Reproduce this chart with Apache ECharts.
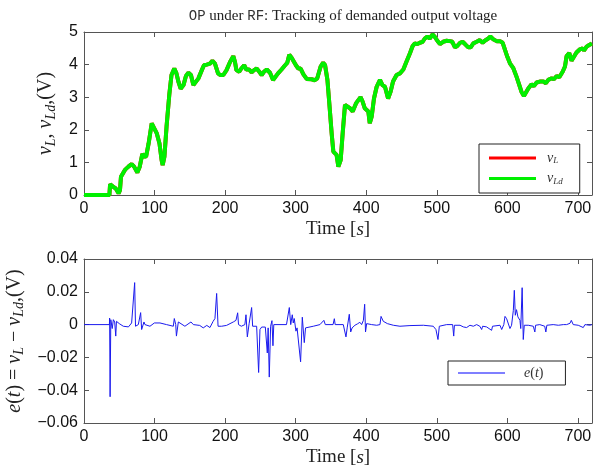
<!DOCTYPE html>
<html>
<head>
<meta charset="utf-8">
<script src="https://cdn.jsdelivr.net/npm/echarts@6/dist/echarts.min.js"></script>
<style>
html, body { margin: 0; padding: 0; background: #fff; }
#main { width: 603px; height: 467px; }
</style>
</head>
<body>
<div id="main"></div>
<script>
// demanded output voltage v_Ld (v_L tracks it, drawn underneath)
var timeTop = [0, 36, 37, 41.6, 45, 49, 51, 52.4, 58, 63, 67.5, 71, 75.6, 79, 82.7, 85, 88, 91.6, 96, 98,
    103, 107, 110, 111.5, 114, 117, 121, 124, 128, 131, 134, 137, 141, 144.5, 148, 151.6, 155, 157, 162, 167,
    170, 174, 178.5, 182, 185.6, 190, 193, 197.5, 202, 207, 211.6, 214, 216, 220, 223, 227, 230, 234, 237.6, 241,
    244.7, 248.5, 251.8, 255, 259, 263.6, 268, 270.7, 275, 280, 285, 288, 291, 294, 296.6, 300.4, 303.7, 307, 311, 315.6,
    322.6, 327, 330.6, 335.4, 339, 341.6, 345, 347.7, 351, 353.4, 355.7, 358, 360.5, 361.9, 363.8, 366.6, 369.9, 372.3,
    377, 380.8, 383, 385.5, 388.8, 392, 395, 398, 400.6, 403, 405, 407.7, 411, 414.8, 419.5, 423, 426.6, 431, 434.6, 438,
    443, 447.8, 452.6, 457, 462, 465.8, 469, 472.5, 476, 480, 483, 486.6, 490, 494, 497, 500.8, 504.5, 509, 514, 518.7,
    522, 525.8, 529, 533, 536.6, 540, 544.7, 548, 551.8, 556.5, 561, 565, 568, 573, 576, 580, 584.8, 589.6, 593.4, 596.7,
    600, 603.7, 608.5, 613, 617, 620, 623.5, 626, 629.7, 634.4, 637.7, 641.5, 646, 651, 654.7, 658, 662.8, 666, 669.9, 673.6,
    678.4, 681.7, 684, 687.8, 691, 694.4, 698, 702.9, 706.7, 708.6, 712.4, 716, 720];
var vLd = [0, 0, 0.33, 0.25, 0.2, 0.05, 0.15, 0.56, 0.77, 0.87, 0.95, 0.87, 0.69, 0.87, 1.26, 1.18, 1.18, 1.58, 2.2, 2.2,
    1.9, 1.58, 1.07, 0.92, 1.18, 2.1, 3.1, 3.68, 3.88, 3.73, 3.46, 3.26, 3.37, 3.65, 3.75, 3.68, 3.37, 3.35, 3.57, 3.83,
    3.98, 4.0, 4.03, 4.12, 4.03, 3.73, 3.68, 3.68, 3.83, 4.08, 4.26, 4.08, 3.83, 3.78, 3.88, 3.98, 3.85, 3.85, 3.76, 3.83,
    3.88, 3.78, 3.68, 3.78, 3.85, 3.75, 3.53, 3.55, 3.73, 3.85, 3.98, 4.05, 4.3, 4.22, 4.24, 3.98, 3.88, 3.88, 3.7, 3.56,
    3.55, 3.52, 3.58, 3.94, 4.06, 3.99, 3.53, 2.81, 1.89, 1.33, 1.28, 1.23, 0.87, 0.82, 1.07, 1.89, 2.76, 2.73,
    2.66, 2.56, 2.56, 2.81, 2.91, 3.0, 2.86, 2.66, 2.71, 2.56, 2.2, 2.4, 2.96, 3.32, 3.53, 3.37, 3.32, 2.96, 3.17, 3.48,
    3.68, 3.73, 3.85, 4.09, 4.35, 4.57, 4.65, 4.63, 4.67, 4.7, 4.8, 4.86, 4.8, 4.93, 4.86, 4.73, 4.63, 4.7, 4.73, 4.72,
    4.7, 4.53, 4.57, 4.67, 4.7, 4.63, 4.53, 4.53, 4.65, 4.7, 4.75, 4.67, 4.73, 4.8, 4.86, 4.78, 4.72, 4.72, 4.67, 4.45,
    4.24, 4.04, 3.89, 3.63, 3.37, 3.17, 3.04, 3.1, 3.27, 3.4, 3.34, 3.45, 3.48, 3.48, 3.43, 3.53, 3.58, 3.55, 3.65, 3.61,
    3.78, 3.94, 4.26, 4.35, 4.12, 4.24, 4.37, 4.47, 4.5, 4.43, 4.55, 4.6, 4.65];
var vL = vLd.slice();

// tracking error e(t)
var timeErr = [0, 36, 36.3, 37, 38, 40, 41.6, 43.5, 45, 46, 50, 55.7, 63, 67.5, 70, 71.8, 73, 77, 80.3, 81.7,
    85, 86.4, 93.5, 99.7, 107.7, 117, 126.6, 128, 130, 131, 133.7, 135, 143, 151.6, 155, 164, 169, 174, 178.5, 183,
    185.6, 188, 190, 195, 202, 211.6, 215.4, 217.8, 219, 223, 228, 229.6, 231.5, 234, 237.6, 239, 244.7, 247.5, 249.4, 251.8,
    257, 259.8, 261, 262.6, 264.5, 266.4, 267.8, 269, 277.8, 287, 291, 293, 295.2, 296.6, 298, 300.4, 302, 307, 309.4, 310.8,
    312.2, 314, 325, 334.4, 340, 340.5, 342, 353, 354.8, 356, 367.5, 371.3, 373, 376, 378, 380, 384, 387.4, 391, 393.5,
    396, 397.8, 399, 400.6, 403, 407.7, 414.8, 419.5, 421, 422.3, 424.2, 426.6, 430, 438.4, 447.8, 462, 481, 495, 498.8, 501.7,
    503.6, 514, 522.5, 524, 525, 533, 537.6, 542.3, 547, 551.8, 556.5, 561, 563.6, 565, 570.6, 577.7, 579, 589.6, 592, 595,
    596.7, 599, 601.4, 603.7, 606, 608.5, 609.9, 611.3, 613, 615, 617.9, 619, 621, 622.6, 624, 629.7, 636.8, 639, 640, 646,
    653, 654.6, 656, 665, 672.3, 679.4, 684, 688.8, 690.7, 693.4, 700.5, 707.6, 710, 717, 720];
var errVals = [0, 0, 0.004, -0.044, 0.003, -0.0024, 0.003, 0.0016, -0.007, 0.002, 0.0006, -0.001, -0.0014, 0.001, 0.001, 0.0256, -0.001, 0, 0.0073, -0.003,
    0.0016, 0, -0.001, 0.001, 0.001, 0, -0.001, 0.0037, 0, -0.007, 0.0016, 0.0008, -0.001, 0.0016, 0, -0.0005, -0.002, -0.0005, -0.0018, 0.002,
    0.0037, 0.019, -0.001, -0.001, -0.0005, 0.0016, 0.0026, 0.0072, 0, -0.001, 0, 0.006, -0.0075, 0.0005, 0.0104, -0.001, -0.001, -0.0292, -0.003, -0.0015,
    -0.0015, -0.0173, -0.002, -0.032, -0.001, 0.0024, -0.0129, 0, 0, 0, 0.0104, 0, 0.006, 0.001, 0.0037, -0.004, -0.002, -0.0227, 0.0045, 0.0045,
    -0.011, -0.002, -0.001, 0, 0.0026, 0.003, 0, 0, 0.0036, 0, 0, -0.0075, -0.002, 0.0063, -0.0045, -0.002, -0.0004, 0.0004, 0.0014, 0,
    0.0026, 0.0124, -0.0045, 0.0006, 0.0016, 0, -0.0004, 0, 0.005, 0.0046, 0.002, 0.0026, 0.0006, -0.0004, -0.001, -0.0006, -0.0004, -0.001, -0.003, -0.0091,
    -0.001, 0, 0, -0.007, -0.0004, -0.0004, -0.0014, -0.0018, -0.0004, -0.001, 0, -0.001, -0.003, -0.001, -0.0014, -0.0035, -0.001, -0.0004, -0.003, 0,
    0.005, 0.0036, 0.0026, -0.0024, -0.0004, 0.0087, 0.0209, 0.0057, 0.0091, 0.0047, 0.0026, -0.0024, 0.0225, -0.0091, -0.0004, -0.0004, -0.001, -0.0045, -0.0004, 0,
    -0.001, -0.0045, -0.0004, 0, -0.0004, 0, 0, 0.0008, 0.0026, 0, -0.0004, -0.0018, 0, -0.0004, 0];

var xTicks = [0, 100, 200, 300, 400, 500, 600, 700];

function pairs(xs, ys) {
    var out = [];
    for (var i = 0; i < xs.length; i++) out.push([xs[i], ys[i]]);
    return out;
}

var serif = '"Liberation Serif", "DejaVu Serif", serif';
var sans = '"Liberation Sans", Arial, sans-serif';

var mathRich = {
    i: { fontFamily: serif, fontStyle: 'italic', fontSize: 20, color: '#222' },
    s: { fontFamily: serif, fontStyle: 'italic', fontSize: 14, color: '#222', padding: [10, 0, 0, 0] },
    r: { fontFamily: serif, fontSize: 20, color: '#222' }
};
var axisNameRich = {
    i: { fontFamily: serif, fontStyle: 'italic', fontSize: 19, color: '#222' },
    r: { fontFamily: serif, fontSize: 19, color: '#222' }
};
var legendRich = {
    i: { fontFamily: serif, fontStyle: 'italic', fontSize: 14, color: '#333' },
    s: { fontFamily: serif, fontStyle: 'italic', fontSize: 9, color: '#333', padding: [6, 0, 0, 0] },
    r: { fontFamily: serif, fontSize: 14, color: '#333' }
};
var legendNames = {
    vL: '{i|v}{s|L}',
    vLd: '{i|v}{s|Ld}',
    e: '{i|e}{r|(}{i|t}{r|)}'
};
var timeName = '{r|Time }{r|[}{i|s}{r|]}';

function xLabel(v) {
    return xTicks.indexOf(v) >= 0 ? String(v) : '';
}
function errLabel(v) {
    if (Math.abs(v) < 1e-9) return '0';
    return (v < 0 ? '\u2212' : '') + Math.abs(v).toFixed(2);
}

var axisLineStyle = { color: '#555', width: 1 };

function bottomAxis(grid) {
    return {
        type: 'value', gridIndex: grid, position: 'bottom', min: 0, max: 720, interval: 100,
        axisLine: { show: true, onZero: false, lineStyle: axisLineStyle },
        axisTick: { show: true, inside: true, length: 5, lineStyle: axisLineStyle },
        axisLabel: { formatter: xLabel, fontFamily: sans, fontSize: 16, color: '#111', margin: 6 },
        splitLine: { show: false },
        name: timeName, nameLocation: 'middle', nameGap: 25,
        nameTextStyle: { rich: axisNameRich }
    };
}
function topAxis(grid) {
    return {
        type: 'value', gridIndex: grid, position: 'top', min: 0, max: 720, interval: 100,
        axisLine: { show: true, onZero: false, lineStyle: axisLineStyle },
        axisTick: { show: true, inside: true, length: 5, lineStyle: axisLineStyle },
        axisLabel: { show: false },
        splitLine: { show: false }
    };
}
function rightAxis(grid, lo, hi, step) {
    return {
        type: 'value', gridIndex: grid, position: 'right', min: lo, max: hi, interval: step,
        axisLine: { show: true, onZero: false, lineStyle: axisLineStyle },
        axisTick: { show: true, inside: true, length: 5, lineStyle: axisLineStyle },
        axisLabel: { show: false }, splitLine: { show: false }
    };
}

var chart = echarts.init(document.getElementById('main'));
chart.setOption({
    animation: false,
    backgroundColor: '#fff',
    title: {
        text: '{m|OP} under {m|RF}: Tracking of demanded output voltage',
        left: 338, textAlign: 'center', top: 4,
        textStyle: {
            fontFamily: serif, fontSize: 15, fontWeight: 'normal', color: '#222',
            rich: { m: { fontFamily: '"Liberation Mono", monospace', fontSize: 14, color: '#333' } }
        }
    },
    grid: [
        { left: 84, right: 11, top: 32, height: 163, outerBoundsMode: 'none' },
        { left: 84, right: 11, top: 259, height: 164, outerBoundsMode: 'none' }
    ],
    xAxis: [bottomAxis(0), topAxis(0), bottomAxis(1), topAxis(1)],
    yAxis: [
        {
            type: 'value', gridIndex: 0, position: 'left', min: 0, max: 5, interval: 1,
            axisLine: { show: true, onZero: false, lineStyle: axisLineStyle },
            axisTick: { show: true, inside: true, length: 5, lineStyle: axisLineStyle },
            axisLabel: { fontFamily: sans, fontSize: 16, color: '#111', margin: 6 },
            splitLine: { show: false },
            name: '{i|v}{s|L}{r|, }{i|v}{s|Ld}{r|,(V)}', nameLocation: 'middle', nameGap: 17, nameRotate: 90,
            nameTextStyle: { rich: mathRich }
        },
        rightAxis(0, 0, 5, 1),
        {
            type: 'value', gridIndex: 1, position: 'left', min: -0.06, max: 0.04, interval: 0.02,
            axisLine: { show: true, onZero: false, lineStyle: axisLineStyle },
            axisTick: { show: true, inside: true, length: 5, lineStyle: axisLineStyle },
            axisLabel: { formatter: errLabel, fontFamily: sans, fontSize: 16, color: '#111', margin: 6 },
            splitLine: { show: false },
            name: '{i|e}{r|(}{i|t}{r|) = }{i|v}{s|L}{r| \u2212 }{i|v}{s|Ld}{r|,(V)}', nameLocation: 'middle', nameGap: 47, nameRotate: 90,
            nameTextStyle: { rich: mathRich }
        },
        rightAxis(1, -0.06, 0.04, 0.02)
    ],
    legend: [
        {
            data: ['vL', 'vLd'], orient: 'vertical', left: 479, top: 144, icon: 'rect',
            padding: [7, 17, 7, 10], itemGap: 6, itemWidth: 47, itemHeight: 3,
            backgroundColor: '#fff', borderColor: '#222', borderWidth: 1, borderRadius: 0,
            formatter: function (name) { return legendNames[name]; },
            textStyle: { rich: legendRich, padding: [0, 0, 0, 6] }
        },
        {
            data: [{ name: 'e', itemStyle: { color: '#7f7fff' } }], orient: 'vertical', left: 448, top: 361, icon: 'rect',
            padding: [5, 22, 5, 10], itemWidth: 47, itemHeight: 2,
            backgroundColor: '#fff', borderColor: '#222', borderWidth: 1, borderRadius: 0,
            formatter: function (name) { return legendNames[name]; },
            textStyle: { rich: legendRich, padding: [0, 0, 0, 14] }
        }
    ],
    series: [
        {
            name: 'vL', type: 'line', xAxisIndex: 0, yAxisIndex: 0, data: pairs(timeTop, vL),
            symbol: 'none', lineStyle: { color: '#ff0000', width: 4 }, itemStyle: { color: '#ff0000' }
        },
        {
            name: 'vLd', type: 'line', xAxisIndex: 0, yAxisIndex: 0, data: pairs(timeTop, vLd),
            symbol: 'none', lineStyle: { color: '#00f000', width: 4 }, itemStyle: { color: '#00f000' }
        },
        {
            name: 'e', type: 'line', xAxisIndex: 2, yAxisIndex: 2, data: pairs(timeErr, errVals),
            symbol: 'none', lineStyle: { color: '#1a1aee', width: 1 }, itemStyle: { color: '#1a1aee' }
        }
    ]
});
</script>
</body>
</html>
